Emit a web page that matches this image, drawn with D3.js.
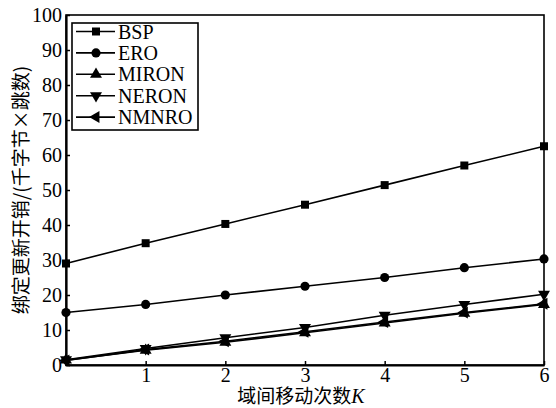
<!DOCTYPE html>
<html>
<head>
<meta charset="utf-8">
<script src="https://cdn.jsdelivr.net/npm/d3@7"></script>
<style>
  body { margin: 0; background: #fff; }
  svg { display: block; }
  .axis text { font-family: "Liberation Serif", serif; font-size: 20px; fill: #000; }
  .axis path, .axis line { stroke: #000; }
</style>
</head>
<body>
<div id="chart"></div>
<script>
// hop counts K on the x axis
const hops = [0, 1, 2, 3, 4, 5, 6]
const xTicks = [1, 2, 3, 4, 5, 6]
const yTicks = [0, 10, 20, 30, 40, 50, 60, 70, 80, 90, 100]

const seriesNames = ['BSP', 'ERO', 'MIRON', 'NERON', 'NMNRO']
const bspValues = [29, 34.8, 40.3, 45.8, 51.4, 57, 62.5]
const eroValues = [15, 17.3, 20, 22.5, 25, 27.8, 30.3]
const mironValues = [1.4, 4.2, 6.5, 9.2, 12, 14.8, 17.3]
const neronValues = [1.5, 4.7, 7.8, 10.7, 14.2, 17.3, 20.2]
const nmnroValues = [1.3, 4.4, 6.8, 9.5, 12.3, 15, 17.5]

var seriesValues = [bspValues, eroValues, mironValues, neronValues, nmnroValues]

// marker shape + rotation for each series
var markers = [
  {type: d3.symbolSquare, rot: 0, size: 64},
  {type: d3.symbolCircle, rot: 0, size: 66},
  {type: d3.symbolTriangle, rot: 0, size: 62},
  {type: d3.symbolTriangle, rot: 180, size: 62},
  {type: d3.symbolTriangle, rot: -90, size: 62}
]

var fullWidth = 556;
var fullHeight = 408;
var margin = {top: 15, right: 12, bottom: 43, left: 66};
var width = fullWidth - margin.left - margin.right;
var height = fullHeight - margin.top - margin.bottom;

var x = d3.scaleLinear().domain([0, 6]).range([0, width]);
var y = d3.scaleLinear().domain([0, 100]).range([height, 0]);

var svg = d3.select('#chart')
  .append('svg')
    .attr('width', fullWidth)
    .attr('height', fullHeight)
  .append('g')
    .attr('transform', 'translate(' + margin.left + ',' + margin.top + ')');

// frame
svg.append('rect')
  .attr('width', width)
  .attr('height', height)
  .attr('fill', 'none')
  .attr('stroke', '#000')
  .attr('stroke-width', 1.6);

svg.append('g')
  .attr('class', 'axis axis--x')
  .attr('transform', 'translate(0,' + height + ')')
  .call(d3.axisBottom(x).tickValues(xTicks).tickFormat(d3.format('d'))
    .tickSizeInner(-4).tickSizeOuter(0).tickPadding(3))
  .call(g => g.select('.domain').attr('stroke-width', 2))
  .call(g => g.selectAll('.tick line').attr('stroke-width', 1.5));

svg.append('g')
  .attr('class', 'axis axis--y')
  .call(d3.axisLeft(y).tickValues(yTicks).tickFormat(d3.format('d'))
    .tickSizeInner(-4).tickSizeOuter(0).tickPadding(4))
  .call(g => g.select('.domain').attr('stroke-width', 2.2))
  .call(g => g.selectAll('.tick line').attr('stroke-width', 1.5));

// y label
svg.append('text')
  .attr('text-anchor', 'middle')
  .attr('transform', 'rotate(-90)')
  .attr('x', -height / 2)
  .attr('y', -38)
  .style('font-family', '"Noto Sans CJK SC", sans-serif')
  .style('font-size', '19px')
  .text('绑定更新开销/(千字节×跳数)');

// x label
var xLabel = svg.append('text')
  .attr('text-anchor', 'middle')
  .attr('x', width / 2 - 4)
  .attr('y', height + 38)
  .style('font-size', '19px');
xLabel.append('tspan')
  .style('font-family', '"Noto Sans CJK SC", sans-serif')
  .text('域间移动次数');
xLabel.append('tspan')
  .style('font-family', '"Liberation Serif", serif')
  .style('font-style', 'italic')
  .style('font-size', '20px')
  .text('K');

var line = d3.line()
  .x(function(d, i) { return x(hops[i]); })
  .y(function(d) { return y(d); });

function symbolPath(m) {
  return d3.symbol().type(m.type).size(m.size)();
}

var series = svg.selectAll('.series').data(seriesValues)
  .enter().append('g')
    .attr('class', 'series');

series.append('path')
  .attr('d', function(d) { return line(d); })
  .attr('fill', 'none')
  .attr('stroke', '#000')
  .attr('stroke-width', 1.6);

series.each(function(vals, s) {
  d3.select(this).selectAll('.pt').data(vals)
    .enter().append('path')
      .attr('class', 'pt')
      .attr('d', symbolPath(markers[s]))
      .attr('transform', function(d, i) {
        return 'translate(' + x(hops[i]) + ',' + y(d) + ') rotate(' + markers[s].rot + ')';
      })
      .attr('fill', '#000');
});

// legend
var legend = svg.append('g')
  .attr('transform', 'translate(6,8)');

legend.append('rect')
  .attr('width', 126)
  .attr('height', 107)
  .attr('fill', '#fff')
  .attr('stroke', '#000')
  .attr('stroke-width', 1.6);

var items = legend.selectAll('.item').data(seriesNames)
  .enter().append('g')
    .attr('class', 'item')
    .attr('transform', function(d, i) { return 'translate(0,' + (8.5 + i * 21.4) + ')'; });

items.append('line')
  .attr('x1', 4).attr('x2', 43)
  .attr('stroke', '#000')
  .attr('stroke-width', 1.6);

items.append('path')
  .attr('d', function(d, i) { return symbolPath(markers[i]); })
  .attr('transform', function(d, i) { return 'translate(24,0) rotate(' + markers[i].rot + ')'; })
  .attr('fill', '#000');

items.append('text')
  .attr('x', 46)
  .attr('dy', '0.35em')
  .style('font-family', '"Liberation Serif", serif')
  .style('font-size', '20px')
  .text(function(d) { return d; });
</script>
</body>
</html>
